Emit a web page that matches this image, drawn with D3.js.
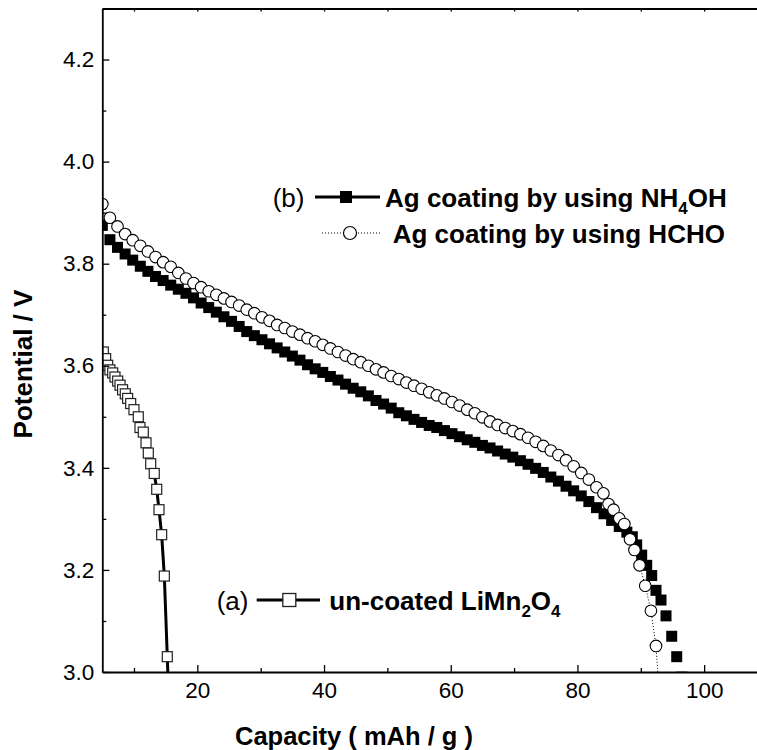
<!DOCTYPE html>
<html>
<head>
<meta charset="utf-8">
<script src="https://cdn.jsdelivr.net/npm/d3@7"></script>
<style>
  body { margin: 0; background: #fff; }
  svg { display: block; font-family: "Liberation Sans", Arial, sans-serif; }
</style>
</head>
<body>
<svg id="chart" width="757" height="750"></svg>
<script>
// (a) un-coated LiMn2O4
var uncoatedCap = [5.16, 5.53, 5.85, 6.2, 6.64, 7.0, 7.43, 7.8, 8.2, 8.63, 9.0, 9.48, 10.0, 10.68, 10.95, 11.47, 11.9, 12.26, 12.64, 13.2, 13.59, 13.95, 14.37, 14.79, 15.26, 15.45];
var uncoatedV   = [3.627, 3.614, 3.601, 3.592, 3.586, 3.578, 3.570, 3.562, 3.553, 3.545, 3.536, 3.526, 3.514, 3.500, 3.479, 3.470, 3.449, 3.429, 3.408, 3.389, 3.358, 3.318, 3.269, 3.188, 3.030, 2.960];

// (b) Ag coating by using NH4OH
var nh4ohCap = [5.0, 6.2, 7.4, 8.6, 9.8, 11.0, 12.2, 13.4, 14.6, 15.8, 17.0, 18.2, 19.4, 20.6, 21.8, 23.0, 24.2, 25.4, 26.6, 27.8,
                29.0, 30.2, 31.4, 32.6, 33.8, 35.0, 36.2, 37.4, 38.6, 39.8, 41.0, 42.2, 43.4, 44.6, 45.8, 47.0, 48.2, 49.4, 50.6, 51.8,
                53.0, 54.2, 55.4, 56.6, 57.8, 59.0, 60.2, 61.4, 62.6, 63.8, 65.0, 66.2, 67.4, 68.6, 69.8, 71.0, 72.2, 73.4, 74.6, 75.8,
                77.0, 78.2, 79.4, 80.6, 81.8, 83.0, 84.2, 85.4, 86.6, 87.8, 88.66, 89.35, 90.14, 90.93, 91.72, 92.4, 93.19, 93.98, 94.88, 95.67, 96.5];
var nh4ohV   = [3.875, 3.847, 3.832, 3.819, 3.807, 3.795, 3.785, 3.775, 3.767, 3.758, 3.750, 3.742, 3.733, 3.723, 3.714, 3.705, 3.696, 3.687, 3.677, 3.667,
                3.659, 3.651, 3.643, 3.635, 3.627, 3.619, 3.611, 3.602, 3.594, 3.587, 3.579, 3.572, 3.564, 3.556, 3.549, 3.541, 3.532, 3.525, 3.517, 3.508,
                3.502, 3.495, 3.489, 3.483, 3.479, 3.473, 3.467, 3.461, 3.455, 3.450, 3.444, 3.439, 3.433, 3.427, 3.421, 3.414, 3.407, 3.399, 3.391, 3.382,
                3.374, 3.364, 3.355, 3.345, 3.334, 3.322, 3.310, 3.297, 3.285, 3.274, 3.265, 3.249, 3.229, 3.209, 3.189, 3.160, 3.141, 3.110, 3.070, 3.030, 2.990];

// Ag coating by using HCHO
var hchoCap = [5.0, 6.2, 7.4, 8.6, 9.8, 11.0, 12.2, 13.4, 14.6, 15.8, 17.0, 18.2, 19.4, 20.6, 21.8, 23.0, 24.2, 25.4, 26.6, 27.8,
               29.0, 30.2, 31.4, 32.6, 33.8, 35.0, 36.2, 37.4, 38.6, 39.8, 41.0, 42.2, 43.4, 44.6, 45.8, 47.0, 48.2, 49.4, 50.6, 51.8,
               53.0, 54.2, 55.4, 56.6, 57.8, 59.0, 60.2, 61.4, 62.6, 63.8, 65.0, 66.2, 67.4, 68.6, 69.8, 71.0, 72.2, 73.4, 74.6, 75.8,
               77.0, 78.2, 79.4, 80.6, 81.8, 83.0, 84.1, 84.9, 85.7, 86.6, 87.4, 88.3, 89.0, 89.8, 90.7, 91.6, 92.4, 92.8];
var hchoV   = [3.917, 3.890, 3.873, 3.858, 3.846, 3.835, 3.824, 3.813, 3.803, 3.794, 3.782, 3.771, 3.762, 3.754, 3.746, 3.739, 3.732, 3.725, 3.718, 3.710,
               3.703, 3.695, 3.688, 3.680, 3.674, 3.667, 3.661, 3.654, 3.648, 3.641, 3.634, 3.627, 3.620, 3.613, 3.607, 3.600, 3.593, 3.587, 3.580, 3.574,
               3.567, 3.561, 3.555, 3.548, 3.542, 3.536, 3.529, 3.522, 3.514, 3.507, 3.499, 3.491, 3.484, 3.478, 3.472, 3.466, 3.459, 3.451, 3.443, 3.434,
               3.425, 3.415, 3.403, 3.390, 3.377, 3.362, 3.350, 3.329, 3.318, 3.301, 3.290, 3.260, 3.239, 3.209, 3.169, 3.120, 3.051, 2.980];

var xMajor = [20, 40, 60, 80, 100];
var xMinor = [10, 30, 50, 70, 90, 110];
var yMajor = [3.0, 3.2, 3.4, 3.6, 3.8, 4.0, 4.2];
var yMinor = [3.1, 3.3, 3.5, 3.7, 3.9, 4.1, 4.3];

var svg = d3.select("#chart");

var plotLeft = 102.3, plotTop = 8.5, plotBottom = 672, plotRight = 767.5;

var x = d3.scaleLinear().domain([5, 110]).range([plotLeft, plotRight]);
var y = d3.scaleLinear().domain([3.0, 4.3]).range([plotBottom, plotTop]);

svg.append("clipPath").attr("id", "plotclip")
  .append("rect")
  .attr("x", plotLeft).attr("y", plotTop)
  .attr("width", plotRight - plotLeft).attr("height", plotBottom - plotTop);

var plot = svg.append("g").attr("clip-path", "url(#plotclip)");

function pts(cap, v) {
  return cap.map(function(c, i) { return [c, v[i]]; });
}

var line = d3.line()
  .x(function(d) { return x(d[0]); })
  .y(function(d) { return y(d[1]); });

// (a) un-coated: thick line with open squares
var dataA = pts(uncoatedCap, uncoatedV);
plot.append("path")
  .datum(dataA)
  .attr("d", line)
  .attr("fill", "none")
  .attr("stroke", "#000")
  .attr("stroke-width", 3);

plot.selectAll(".sqA")
  .data(dataA)
  .enter().append("rect")
  .attr("class", "sqA")
  .attr("x", function(d) { return x(d[0]) - 5; })
  .attr("y", function(d) { return y(d[1]) - 5; })
  .attr("width", 10).attr("height", 10)
  .attr("fill", "#fff")
  .attr("stroke", "#222")
  .attr("stroke-width", 1.2);

// (b) NH4OH: filled squares
var dataB = pts(nh4ohCap, nh4ohV);
plot.selectAll(".sqB")
  .data(dataB)
  .enter().append("rect")
  .attr("class", "sqB")
  .attr("x", function(d) { return x(d[0]) - 5.5; })
  .attr("y", function(d) { return y(d[1]) - 5.5; })
  .attr("width", 11).attr("height", 11)
  .attr("fill", "#000");

// HCHO: dotted line with open circles
var dataC = pts(hchoCap, hchoV);
plot.append("path")
  .datum(dataC)
  .attr("d", line)
  .attr("fill", "none")
  .attr("stroke", "#000")
  .attr("stroke-width", 1)
  .attr("stroke-dasharray", "1,2");

plot.selectAll(".ciC")
  .data(dataC.slice(0, dataC.length - 1))
  .enter().append("circle")
  .attr("class", "ciC")
  .attr("cx", function(d) { return x(d[0]); })
  .attr("cy", function(d) { return y(d[1]); })
  .attr("r", 5.8)
  .attr("fill", "#fff")
  .attr("stroke", "#000")
  .attr("stroke-width", 1.1);

// axes
svg.append("g")
  .attr("transform", "translate(" + plotLeft + ",0)")
  .call(d3.axisLeft(y).tickValues(yMajor).tickFormat(d3.format(".1f")).tickSize(-7).tickSizeOuter(0).tickPadding(8));

svg.append("g")
  .attr("transform", "translate(" + plotLeft + ",0)")
  .call(d3.axisLeft(y).tickValues(yMinor).tickFormat("").tickSize(-4).tickSizeOuter(0))
  .select(".domain").remove();

svg.append("g")
  .attr("transform", "translate(0," + plotBottom + ")")
  .call(d3.axisBottom(x).tickValues(xMajor).tickSize(-7).tickSizeOuter(0).tickPadding(10));

svg.append("g")
  .attr("transform", "translate(0," + plotBottom + ")")
  .call(d3.axisBottom(x).tickValues(xMinor).tickFormat("").tickSize(-4).tickSizeOuter(0))
  .select(".domain").remove();

svg.append("g")
  .attr("transform", "translate(0," + plotTop + ")")
  .call(d3.axisTop(x).tickValues(xMajor.concat(xMinor)).tickFormat("").tickSize(-3).tickSizeOuter(0));

svg.selectAll(".domain").attr("stroke-width", 1.8);
svg.selectAll(".tick line").attr("stroke-width", 1.3);
svg.selectAll(".tick text")
  .attr("font-family", "Liberation Sans, Arial, sans-serif")
  .attr("font-size", "22.5px")
  .attr("fill", "#000");

// axis titles
svg.append("text")
  .attr("transform", "translate(31.5,364) rotate(-90)")
  .attr("text-anchor", "middle")
  .attr("font-size", "26px")
  .attr("font-weight", "bold")
  .text("Potential / V");

svg.append("text")
  .attr("x", 354).attr("y", 745)
  .attr("text-anchor", "middle")
  .attr("font-size", "25.5px")
  .attr("font-weight", "bold")
  .text("Capacity ( mAh / g )");

// legend (b)
svg.append("text").attr("x", 272.7).attr("y", 207)
  .attr("font-size", "26px").text("(b)");
svg.append("line")
  .attr("x1", 315).attr("x2", 380).attr("y1", 197).attr("y2", 197)
  .attr("stroke", "#000").attr("stroke-width", 3);
svg.append("rect")
  .attr("x", 346 - 6).attr("y", 197 - 6).attr("width", 12).attr("height", 12)
  .attr("fill", "#000");
var tb = svg.append("text").attr("x", 385).attr("y", 207)
  .attr("font-size", "26px").attr("font-weight", "bold");
tb.append("tspan").text("Ag coating by using NH");
tb.append("tspan").attr("dy", 7).attr("font-size", "17px").text("4");
tb.append("tspan").attr("dy", -7).text("OH");

svg.append("line")
  .attr("x1", 322).attr("x2", 380).attr("y1", 233).attr("y2", 233)
  .attr("stroke", "#000").attr("stroke-width", 1)
  .attr("stroke-dasharray", "1,2");
svg.append("circle")
  .attr("cx", 350).attr("cy", 233).attr("r", 6.5)
  .attr("fill", "#fff").attr("stroke", "#000").attr("stroke-width", 1.2);
svg.append("text").attr("x", 392.7).attr("y", 243)
  .attr("font-size", "26px").attr("font-weight", "bold")
  .text("Ag coating by using HCHO");

// legend (a)
svg.append("text").attr("x", 216.7).attr("y", 610)
  .attr("font-size", "26px").text("(a)");
svg.append("line")
  .attr("x1", 256.7).attr("x2", 320).attr("y1", 600).attr("y2", 600)
  .attr("stroke", "#000").attr("stroke-width", 3);
svg.append("rect")
  .attr("x", 289.3 - 6.5).attr("y", 600 - 6.5).attr("width", 13).attr("height", 13)
  .attr("fill", "#fff").attr("stroke", "#222").attr("stroke-width", 1.3);
var ta = svg.append("text").attr("x", 329.3).attr("y", 610)
  .attr("font-size", "26px").attr("font-weight", "bold");
ta.append("tspan").text("un-coated LiMn");
ta.append("tspan").attr("dy", 7).attr("font-size", "17px").text("2");
ta.append("tspan").attr("dy", -7).text("O");
ta.append("tspan").attr("dy", 7).attr("font-size", "17px").text("4");
</script>
</body>
</html>
